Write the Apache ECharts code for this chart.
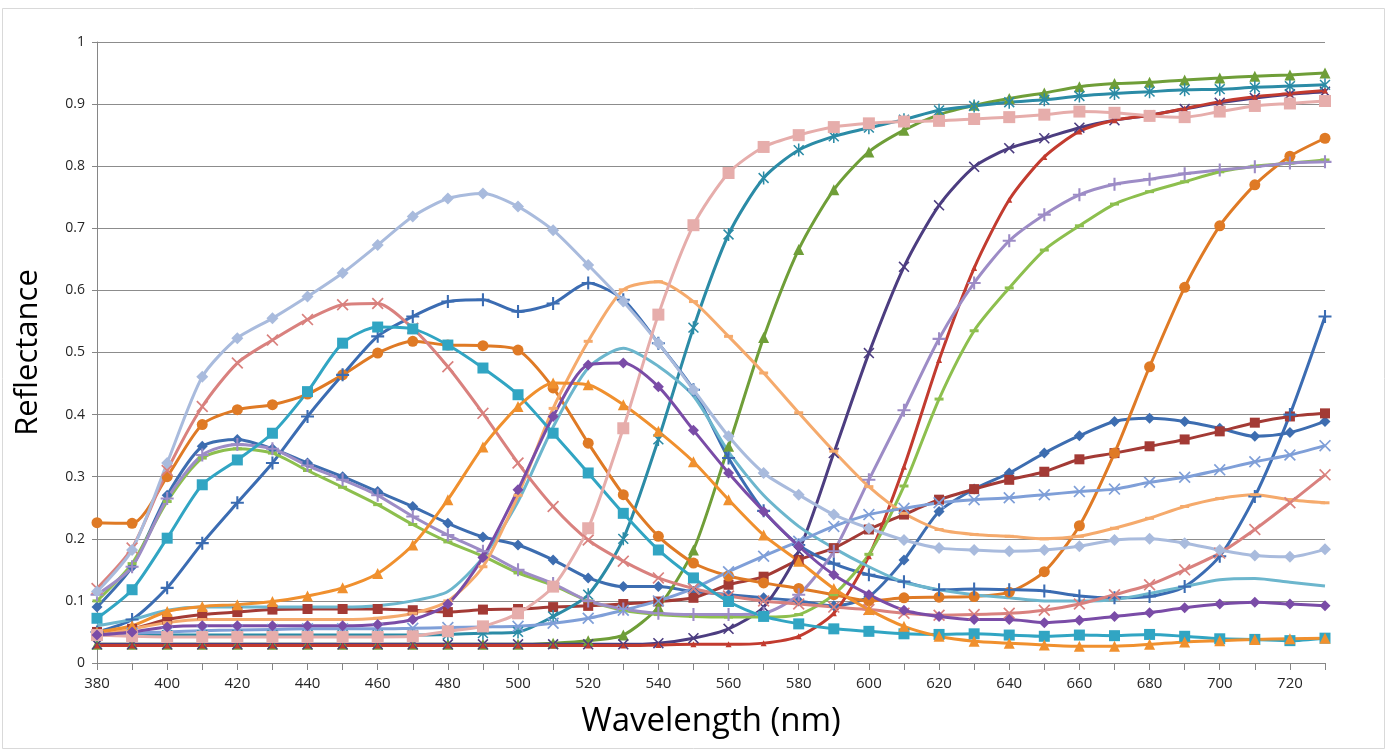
<!DOCTYPE html>
<html>
<head>
<meta charset="utf-8">
<script src="https://cdn.jsdelivr.net/npm/echarts@6/dist/echarts.min.js"></script>
<style>
  html, body { margin: 0; padding: 0; background: #ffffff; }
  #chart { width: 1387px; height: 751px; }
</style>
</head>
<body>
<div id="chart"></div>
<script>
// Wavelength categories (nm)
const wavelengths = ['380','390','400','410','420','430','440','450','460','470','480','490','500','510','520','530','540','550','560','570','580','590','600','610','620','630','640','650','660','670','680','690','700','710','720','730'];
const yTicks = [0, 0.1, 0.2, 0.3, 0.4, 0.5, 0.6, 0.7, 0.8, 0.9, 1];

// Reflectance curves, one value per wavelength
const blueDiamond = [0.09,0.155,0.27,0.349,0.36,0.345,0.322,0.30,0.276,0.252,0.225,0.203,0.19,0.166,0.137,0.123,0.123,0.115,0.11,0.105,0.10,0.092,0.107,0.166,0.244,0.28,0.306,0.338,0.366,0.389,0.394,0.389,0.378,0.365,0.371,0.389];
const darkRedSquare = [0.05,0.055,0.07,0.078,0.082,0.086,0.087,0.087,0.087,0.085,0.082,0.086,0.087,0.09,0.092,0.095,0.099,0.105,0.126,0.139,0.166,0.185,0.215,0.239,0.263,0.28,0.295,0.308,0.328,0.338,0.349,0.36,0.373,0.387,0.397,0.402];
const greenTriangle = [0.03,0.03,0.03,0.03,0.03,0.03,0.03,0.03,0.03,0.03,0.03,0.03,0.03,0.032,0.036,0.045,0.09,0.182,0.349,0.524,0.666,0.762,0.823,0.858,0.883,0.898,0.909,0.918,0.928,0.933,0.935,0.939,0.942,0.945,0.947,0.95];
const darkPurpleX = [0.03,0.03,0.03,0.03,0.03,0.03,0.03,0.03,0.03,0.03,0.03,0.03,0.03,0.03,0.03,0.03,0.032,0.04,0.055,0.09,0.18,0.338,0.499,0.638,0.737,0.799,0.829,0.845,0.862,0.874,0.882,0.892,0.902,0.91,0.916,0.92];
const tealStar = [0.045,0.045,0.045,0.045,0.045,0.045,0.045,0.045,0.045,0.045,0.046,0.048,0.05,0.075,0.11,0.2,0.36,0.54,0.69,0.781,0.826,0.848,0.862,0.875,0.89,0.897,0.903,0.907,0.913,0.917,0.92,0.923,0.924,0.927,0.929,0.931];
const orangeCircle = [0.226,0.225,0.30,0.384,0.408,0.416,0.433,0.464,0.499,0.518,0.512,0.511,0.504,0.443,0.354,0.271,0.204,0.161,0.14,0.129,0.12,0.11,0.10,0.105,0.106,0.107,0.114,0.147,0.221,0.338,0.477,0.605,0.704,0.77,0.816,0.845];
const bluePlus = [0.05,0.07,0.121,0.193,0.258,0.322,0.397,0.464,0.526,0.558,0.582,0.585,0.566,0.579,0.612,0.585,0.515,0.44,0.33,0.245,0.19,0.16,0.142,0.131,0.118,0.119,0.118,0.116,0.108,0.105,0.107,0.123,0.172,0.268,0.40,0.558];
const redLine = [0.028,0.028,0.028,0.028,0.028,0.028,0.028,0.028,0.028,0.028,0.028,0.028,0.028,0.028,0.028,0.028,0.029,0.03,0.03,0.032,0.043,0.08,0.172,0.316,0.488,0.636,0.746,0.815,0.856,0.874,0.882,0.893,0.904,0.912,0.917,0.922];
const lightGreenDash = [0.10,0.16,0.26,0.33,0.345,0.338,0.31,0.283,0.255,0.223,0.195,0.172,0.145,0.125,0.10,0.085,0.078,0.075,0.074,0.074,0.078,0.11,0.175,0.285,0.425,0.535,0.604,0.665,0.704,0.739,0.759,0.775,0.791,0.80,0.805,0.81];
const lavenderPlus = [0.11,0.155,0.265,0.335,0.352,0.345,0.318,0.295,0.27,0.236,0.206,0.18,0.15,0.128,0.10,0.087,0.08,0.078,0.078,0.08,0.11,0.18,0.295,0.407,0.522,0.612,0.68,0.722,0.754,0.771,0.779,0.788,0.794,0.799,0.805,0.807];
const lightTeal = [0.06,0.07,0.085,0.09,0.09,0.09,0.09,0.09,0.092,0.10,0.115,0.17,0.26,0.38,0.475,0.507,0.478,0.43,0.34,0.27,0.22,0.185,0.155,0.13,0.118,0.11,0.105,0.10,0.10,0.102,0.112,0.123,0.134,0.136,0.13,0.124];
const lightOrangeDash = [0.045,0.055,0.065,0.07,0.07,0.07,0.07,0.07,0.072,0.08,0.10,0.155,0.27,0.41,0.518,0.601,0.614,0.582,0.526,0.467,0.403,0.341,0.284,0.241,0.215,0.207,0.204,0.20,0.204,0.217,0.233,0.252,0.265,0.271,0.263,0.258];
const lightBlueX = [0.045,0.048,0.05,0.052,0.053,0.054,0.055,0.055,0.055,0.056,0.057,0.058,0.059,0.064,0.072,0.085,0.10,0.12,0.147,0.172,0.196,0.22,0.239,0.249,0.258,0.263,0.266,0.271,0.276,0.28,0.291,0.299,0.311,0.324,0.335,0.35];
const salmonX = [0.12,0.185,0.31,0.413,0.483,0.52,0.553,0.577,0.579,0.539,0.477,0.402,0.322,0.252,0.198,0.164,0.137,0.12,0.108,0.10,0.095,0.09,0.086,0.08,0.077,0.078,0.08,0.085,0.095,0.11,0.126,0.15,0.177,0.215,0.258,0.303];
const tealSquare = [0.072,0.118,0.201,0.287,0.327,0.37,0.437,0.515,0.541,0.538,0.512,0.475,0.432,0.37,0.306,0.241,0.182,0.137,0.099,0.075,0.063,0.055,0.051,0.047,0.046,0.047,0.045,0.043,0.045,0.044,0.046,0.043,0.039,0.038,0.036,0.04];
const orangeTriangle = [0.05,0.06,0.083,0.091,0.094,0.099,0.108,0.121,0.144,0.19,0.263,0.348,0.413,0.451,0.448,0.416,0.373,0.324,0.263,0.206,0.164,0.12,0.086,0.059,0.043,0.035,0.032,0.029,0.027,0.027,0.03,0.034,0.036,0.038,0.039,0.04];
const lightBlueDiamond = [0.115,0.182,0.322,0.461,0.523,0.555,0.59,0.628,0.673,0.719,0.748,0.756,0.735,0.697,0.641,0.582,0.515,0.44,0.365,0.306,0.271,0.239,0.217,0.198,0.185,0.182,0.18,0.182,0.188,0.198,0.20,0.193,0.182,0.173,0.171,0.183];
const pinkSquare = [0.045,0.043,0.042,0.042,0.042,0.042,0.042,0.042,0.042,0.043,0.051,0.059,0.08,0.123,0.217,0.378,0.561,0.705,0.789,0.831,0.85,0.863,0.869,0.872,0.873,0.876,0.879,0.883,0.888,0.886,0.881,0.879,0.888,0.897,0.901,0.905];
const purpleDiamond = [0.045,0.05,0.058,0.06,0.06,0.06,0.06,0.06,0.062,0.07,0.095,0.17,0.279,0.397,0.48,0.483,0.445,0.375,0.306,0.244,0.188,0.142,0.11,0.085,0.075,0.07,0.07,0.065,0.069,0.075,0.081,0.089,0.095,0.098,0.095,0.092];

// Marker outlines
const X_PATH = 'path://M-5,-4 L-4,-5 L0,-1 L4,-5 L5,-4 L1,0 L5,4 L4,5 L0,1 L-4,5 L-5,4 L-1,0 Z';
const STAR_PATH = 'path://M-5,-4 L-4,-5 L0,-1 L4,-5 L5,-4 L1,0 L5,4 L4,5 L0,1 L-4,5 L-5,4 L-1,0 Z M-0.7,-6 L0.7,-6 L0.7,6 L-0.7,6 Z';
const PLUS_PATH = 'path://M-0.8,-5 L0.8,-5 L0.8,-0.8 L5,-0.8 L5,0.8 L0.8,0.8 L0.8,5 L-0.8,5 L-0.8,0.8 L-5,0.8 L-5,-0.8 L-0.8,-0.8 Z';

function curve(name, data, color, symbol, size) {
  return {
    name: name,
    type: 'line',
    data: data,
    smooth: 0.25,
    symbol: symbol,
    symbolSize: size,
    showSymbol: symbol !== 'none',
    lineStyle: { color: color, width: 3 },
    itemStyle: { color: color, borderWidth: 0 },
    emphasis: { disabled: true },
    animation: false
  };
}

const chart = echarts.init(document.getElementById('chart'), null, { renderer: 'canvas' });

chart.setOption({
  backgroundColor: '#ffffff',
  animation: false,
  graphic: [{
    type: 'rect',
    shape: { x: 2.5, y: 8.5, width: 1382, height: 740 },
    style: { fill: 'none', stroke: '#d9d9d9', lineWidth: 1 },
    silent: true, z: -10
  }],
  grid: { left: 97, right: 62, top: 42, bottom: 88, containLabel: false },
  xAxis: {
    type: 'category',
    data: wavelengths,
    boundaryGap: false,
    name: 'Wavelength (nm)',
    nameLocation: 'middle',
    nameGap: 42,
    nameTextStyle: { fontFamily: 'Open Sans', fontSize: 33, color: '#000000' },
    axisLine: { lineStyle: { color: '#868686', width: 1 } },
    axisTick: { show: true, interval: 0, length: 7, lineStyle: { color: '#868686' } },
    axisLabel: { interval: 1, margin: 13, fontFamily: 'Open Sans', fontSize: 15, color: '#262626' },
    splitLine: { show: false }
  },
  yAxis: {
    type: 'value',
    min: 0, max: 1, interval: 0.1,
    name: 'Reflectance',
    nameLocation: 'middle',
    nameGap: 53,
    nameTextStyle: { fontFamily: 'Open Sans', fontSize: 31, color: '#000000' },
    axisLine: { show: true, lineStyle: { color: '#868686', width: 1 } },
    axisTick: { show: true, length: 5, lineStyle: { color: '#868686' } },
    axisLabel: {
      margin: 12, fontFamily: 'Open Sans', fontSize: 14, color: '#262626',
      formatter: function (v) {
        const t = yTicks.find(function (k) { return Math.abs(k - v) < 1e-6; });
        return t === undefined ? '' : String(t);
      }
    },
    splitLine: { show: true, lineStyle: { color: '#8c8c8c', width: 1 } }
  },
  series: [
    curve('s1', blueDiamond, '#3d6db0', 'diamond', 11),
    curve('s2', darkRedSquare, '#a33a35', 'rect', 10),
    curve('s3', greenTriangle, '#6f9e38', 'triangle', 11),
    curve('s4', darkPurpleX, '#4c3d80', X_PATH, 11),
    curve('s5', tealStar, '#2b8ba6', STAR_PATH, [11, 13]),
    curve('s6', orangeCircle, '#df7a25', 'circle', 11),
    curve('s7', bluePlus, '#3b6cb2', PLUS_PATH, 13),
    curve('s8', redLine, '#c23b2f', 'triangle', 6),
    curve('s9', lightGreenDash, '#8dbf4e', 'rect', [9, 3]),
    curve('s10', lavenderPlus, '#9d8cc6', PLUS_PATH, 13),
    curve('s11', lightTeal, '#6cb6cd', 'none', 0),
    curve('s12', lightOrangeDash, '#f5aa6c', 'rect', [9, 3]),
    curve('s13', lightBlueX, '#7f9fd8', X_PATH, 12),
    curve('s14', salmonX, '#d9817e', X_PATH, 12),
    curve('s15', tealSquare, '#31a5c3', 'rect', 11),
    curve('s16', orangeTriangle, '#f0902e', 'triangle', 11),
    curve('s17', lightBlueDiamond, '#a9bbdd', 'diamond', 12),
    curve('s18', pinkSquare, '#e6adab', 'rect', 12),
    curve('s19', purpleDiamond, '#7a4ca7', 'diamond', 11)
  ]
});
</script>
</body>
</html>
